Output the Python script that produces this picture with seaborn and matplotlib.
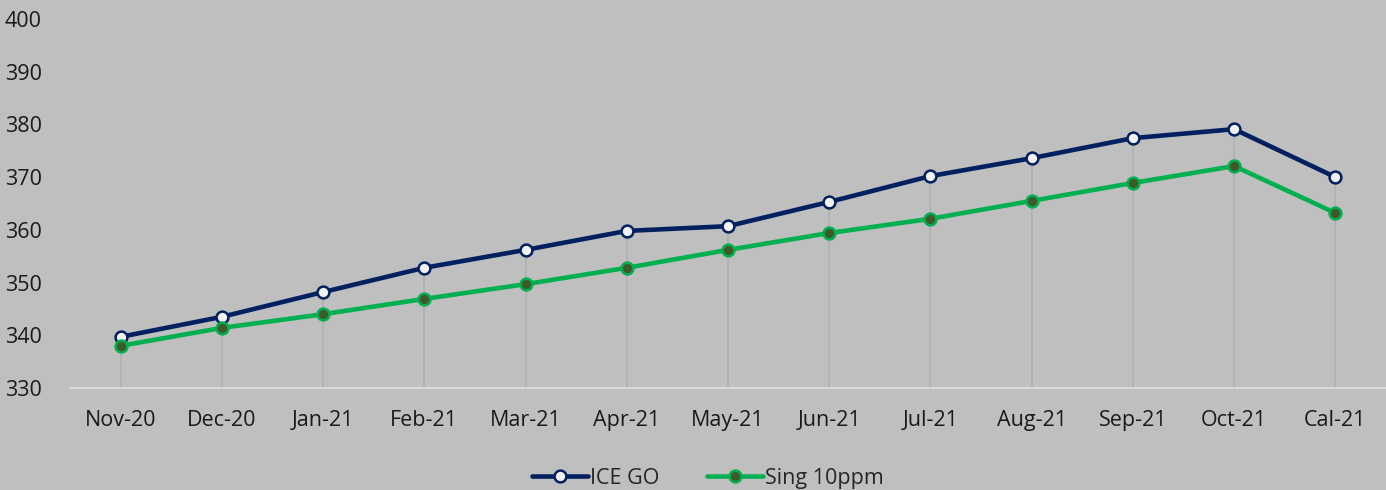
import matplotlib
matplotlib.use("Agg")
import matplotlib.pyplot as plt
import seaborn as sns
import numpy as np
import pandas as pd

# data
months = ['Nov-20', 'Dec-20', 'Jan-21', 'Feb-21', 'Mar-21', 'Apr-21', 'May-21',
          'Jun-21', 'Jul-21', 'Aug-21', 'Sep-21', 'Oct-21', 'Cal-21']
ice_go = [339.7, 343.5, 348.2, 352.8, 356.2, 359.8, 360.7,
          365.3, 370.2, 373.6, 377.4, 379.1, 370.0]
sing_10ppm = [338.0, 341.4, 344.0, 346.9, 349.7, 352.8, 356.2,
              359.4, 362.1, 365.5, 368.9, 372.1, 363.2]

bg = '#bfbfbf'
sns.set_theme(style="white")
plt.rcParams['font.family'] = ['Open Sans', 'DejaVu Sans']

fig = plt.figure(figsize=(13.86, 4.9), dpi=100)
fig.patch.set_facecolor(bg)
ax = fig.add_axes([70 / 1386, 102 / 490, 1 - 70 / 1386, (388 - 19) / 490])
ax.set_facecolor(bg)

x = np.arange(len(months))
df = pd.DataFrame({'x': x, 'ICE GO': ice_go, 'Sing 10ppm': sing_10ppm})

# drop lines from the top series down to the axis
ax.vlines(x, 330, df[['ICE GO', 'Sing 10ppm']].max(axis=1), color='#b0b0b0', lw=1.2, zorder=1)

sns.lineplot(data=df, x='x', y='ICE GO', ax=ax, color='#002060', lw=3.3,
             marker='o', markersize=8.5, markerfacecolor='#f2f2f2',
             markeredgecolor='#002060', markeredgewidth=1.8, label='ICE GO', zorder=3)
sns.lineplot(data=df, x='x', y='Sing 10ppm', ax=ax, color='#00b050', lw=3.3,
             marker='o', markersize=8.5, markerfacecolor='#3f5a2a',
             markeredgecolor='#00b050', markeredgewidth=1.8, label='Sing 10ppm', zorder=3)

ax.set_xlim(-0.5, len(months) - 0.5)
ax.set_ylim(330, 400)
ax.set_yticks(range(330, 401, 10))
ax.set_xticks(x)
ax.set_xticklabels(months)
ax.set_xlabel('')
ax.set_ylabel('')
ax.tick_params(axis='both', labelsize=15.5, colors='#1a1a1a', length=0)
ax.tick_params(axis='x', pad=16)
ax.tick_params(axis='y', pad=47)
for lbl in ax.get_yticklabels():
    lbl.set_horizontalalignment('left')
for s in ['left', 'right', 'top']:
    ax.spines[s].set_visible(False)
ax.spines['bottom'].set_color('#d9d9d9')
ax.spines['bottom'].set_linewidth(1.5)

leg = ax.legend(loc='center', bbox_to_anchor=(0.5 - 20 / 1316, -0.245), ncol=2, frameon=False,
                fontsize=15.5, handlelength=2.6, handletextpad=0.1, columnspacing=2.2)

fig.savefig('out.png', dpi=100, facecolor=bg)
